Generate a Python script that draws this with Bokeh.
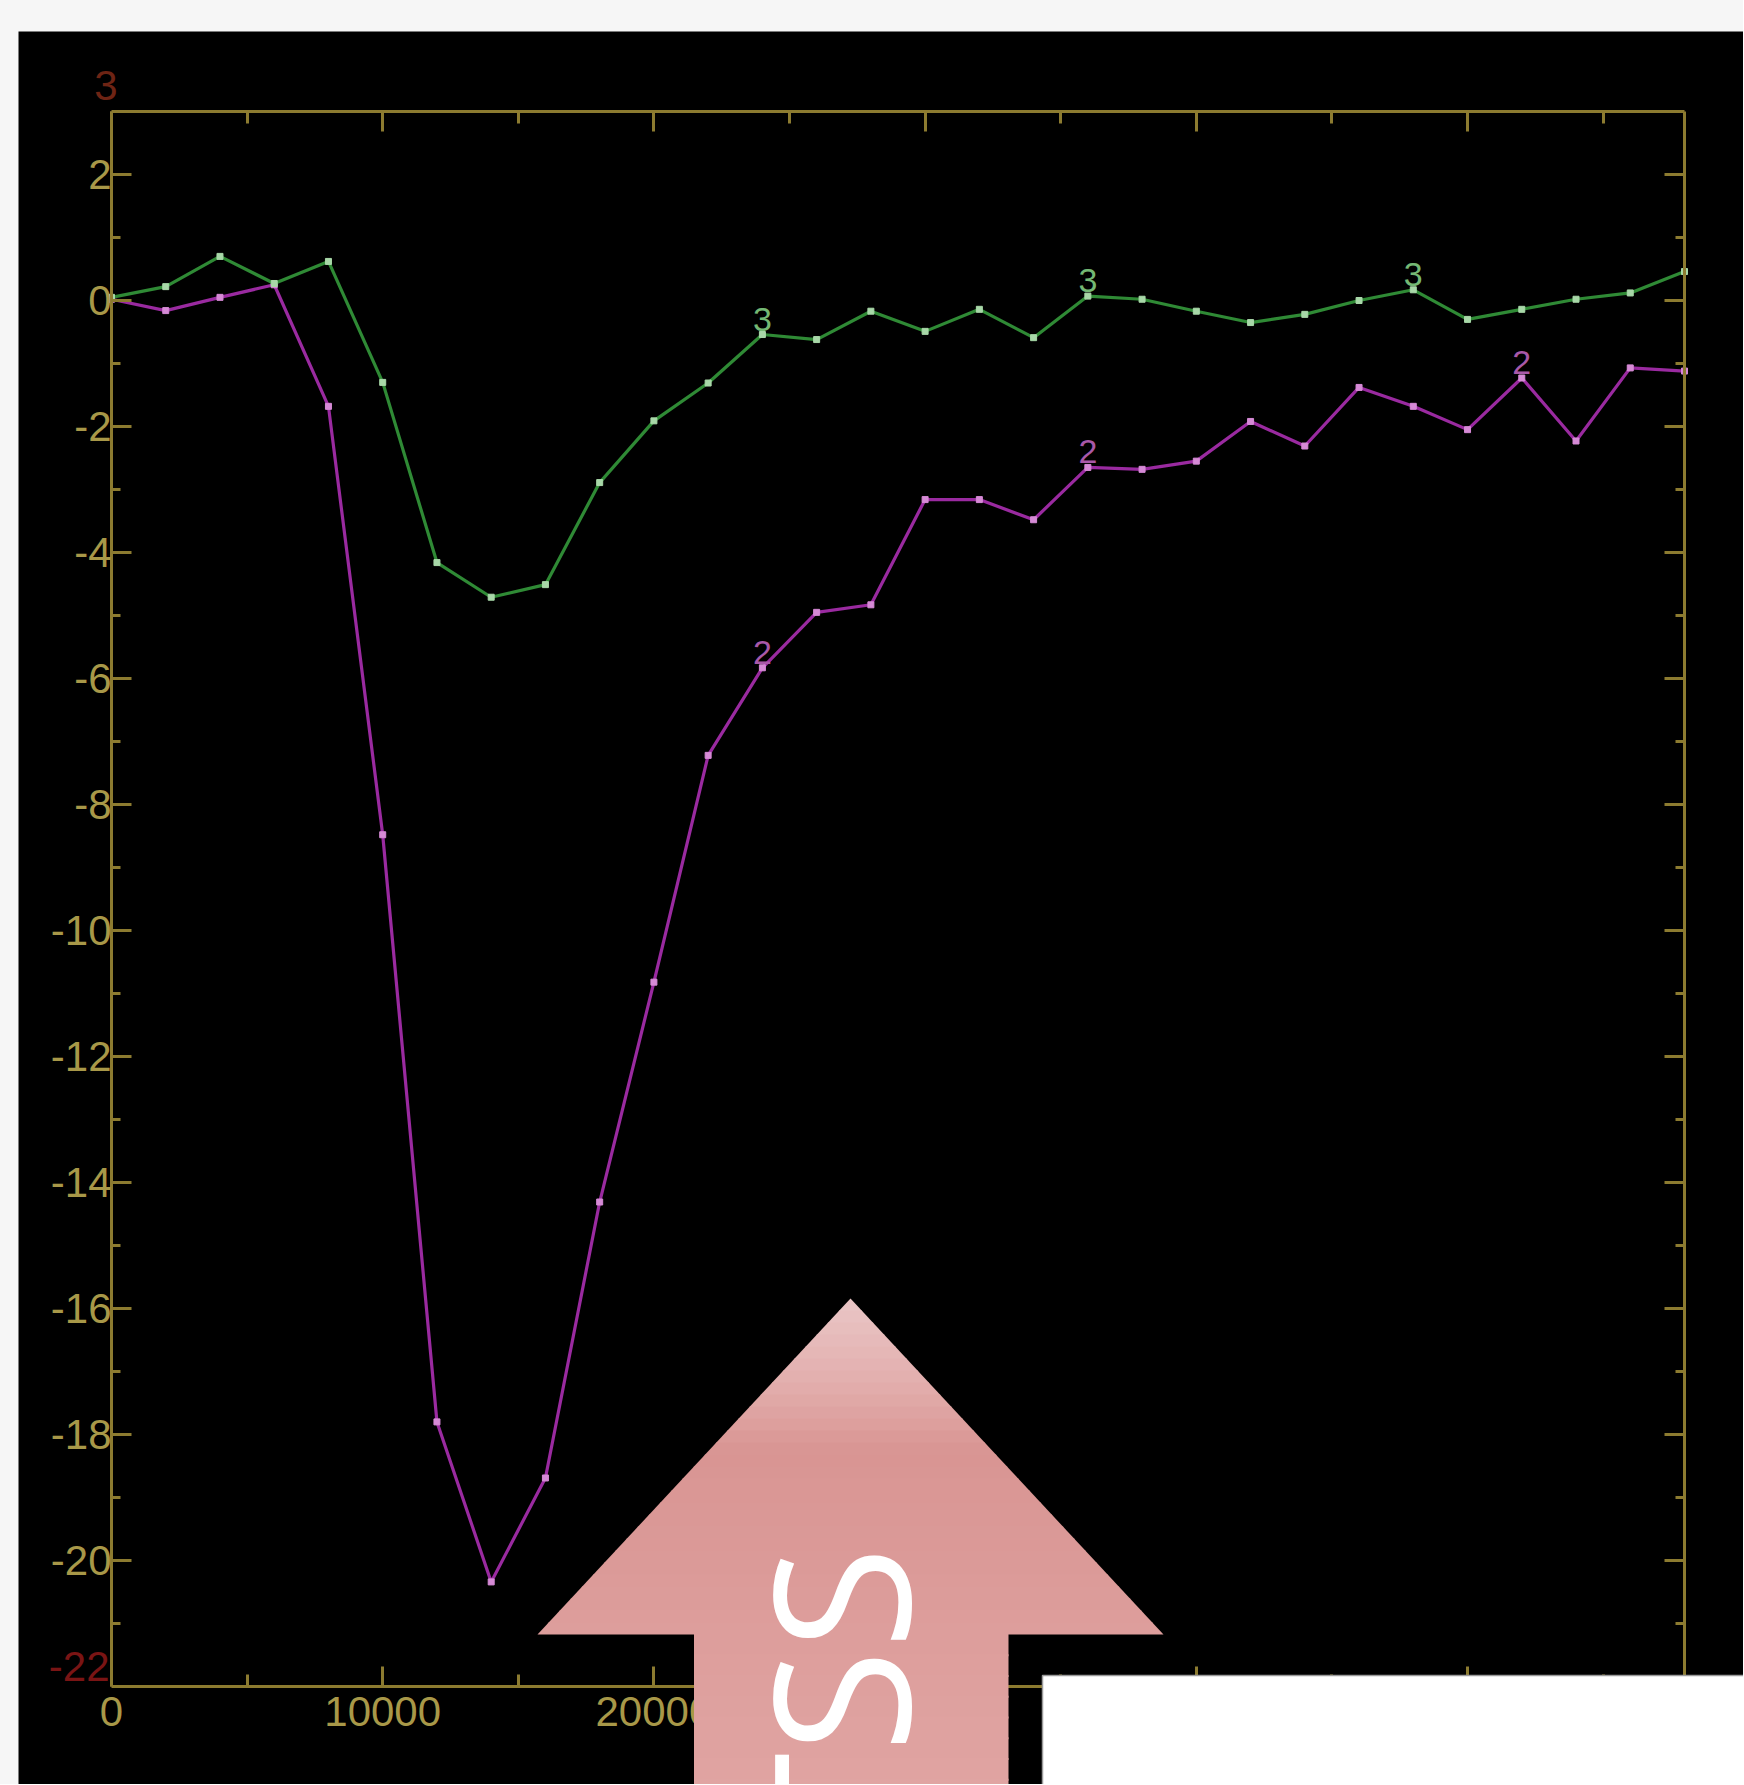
import math
from bokeh.plotting import figure
from bokeh.models import Range1d, LinearAxis, FixedTicker, CustomJSTickFormatter
from bokeh.core.properties import value
from bokeh.embed import file_html
from bokeh.resources import INLINE

# ---------------- data ----------------
positions = [0, 2000, 4000, 6000, 8000, 10000, 12000, 14000, 16000, 18000,
             20000, 22000, 24000, 26000, 28000, 30000, 32000, 34000, 36000, 38000,
             40000, 42000, 44000, 46000, 48000, 50000, 52000, 54000, 56000, 58000]
series_green = [0.05, 0.22, 0.70, 0.27, 0.62, -1.30, -4.16, -4.71, -4.51, -2.89,
                -1.91, -1.31, -0.54, -0.62, -0.17, -0.49, -0.14, -0.59, 0.07, 0.02,
                -0.17, -0.35, -0.22, 0.0, 0.17, -0.30, -0.14, 0.02, 0.12, 0.46]
series_magenta = [0.02, -0.16, 0.05, 0.25, -1.68, -8.48, -17.80, -20.34, -18.69, -14.31,
                  -10.82, -7.22, -5.83, -4.95, -4.83, -3.16, -3.16, -3.48, -2.65, -2.68,
                  -2.55, -1.92, -2.31, -1.38, -1.68, -2.05, -1.23, -2.23, -1.07, -1.12]
x_tick_values = [0, 10000, 20000, 30000, 40000, 50000]
x_tick_labels = ["0", "10000", "20000", "30000", "40000", "50000"]
x_minor_ticks = [5000, 15000, 25000, 35000, 45000, 55000]
y_tick_values = [-20, -18, -16, -14, -12, -10, -8, -6, -4, -2, 0, 2]
y_tick_labels = ["-20", "-18", "-16", "-14", "-12", "-10", "-8", "-6", "-4", "-2", "0", "2"]
y_minor_ticks = [-21, -19, -17, -15, -13, -11, -9, -7, -5, -3, -1, 1]
y_extra_values = [-22, 3]
y_extra_labels = ["-22", "3"]
green_note_index = [12, 18, 24]
green_note_text = ["3", "3", "3"]
magenta_note_index = [12, 18, 26]
magenta_note_text = ["2", "2", "2"]
overlay_text = "TSS"

X_MIN, X_MAX = 0, 58000
Y_MIN, Y_MAX = -22, 3

# ---------------- layout (page pixels) ----------------
W, H = 1743, 1784
FRAME_L, FRAME_T, FRAME_R, FRAME_B = 111, 111, 1684, 1686


def px_to_x(px):
    return X_MIN + (px - FRAME_L) / (FRAME_R - FRAME_L) * (X_MAX - X_MIN)


def py_to_y(py):
    return Y_MAX - (py - FRAME_T) / (FRAME_B - FRAME_T) * (Y_MAX - Y_MIN)


AXIS_COLOR = "#8c7b30"
LABEL_COLOR = "#a89848"
LABEL_FONT = "Liberation Sans"
LABEL_SIZE = "42px"

p = figure(width=W, height=H,
           x_range=Range1d(px_to_x(0), px_to_x(W)), y_range=Range1d(py_to_y(H), py_to_y(0)),
           output_backend="svg", toolbar_location=None,
           x_axis_location=None, y_axis_location=None, min_border=0)
p.background_fill_color = "black"
p.border_fill_color = "black"
p.outline_line_color = None
p.grid.visible = False


def make_axis(ticker, fixed, bounds, major_in, minor_in, labels=None):
    if labels is None:
        ax = LinearAxis(ticker=ticker, formatter=CustomJSTickFormatter(code="return ''"))
    else:
        ax = LinearAxis(ticker=ticker, major_label_overrides=labels)
    ax.fixed_location = fixed
    ax.bounds = bounds
    ax.axis_line_color = AXIS_COLOR
    ax.axis_line_width = 3
    ax.major_tick_line_color = AXIS_COLOR
    ax.minor_tick_line_color = AXIS_COLOR
    ax.major_tick_line_width = 3
    ax.minor_tick_line_width = 3
    ax.major_tick_in = major_in
    ax.major_tick_out = 0
    ax.minor_tick_in = minor_in
    ax.minor_tick_out = 0
    ax.major_label_text_color = LABEL_COLOR
    ax.major_label_text_font = LABEL_FONT
    ax.major_label_text_font_size = LABEL_SIZE
    return ax


xticker = FixedTicker(ticks=x_tick_values, minor_ticks=x_minor_ticks)
yticker = FixedTicker(ticks=y_tick_values, minor_ticks=y_minor_ticks)

bottom = make_axis(xticker, Y_MIN, (X_MIN, X_MAX), 20, 12,
                   {v: l for v, l in zip(x_tick_values, x_tick_labels)})
bottom.major_label_standoff = 10
p.add_layout(bottom, "below")
left = make_axis(yticker, X_MIN, (Y_MIN, Y_MAX), 20, 9,
                 {v: l for v, l in zip(y_tick_values, y_tick_labels)})
left.major_label_standoff = 0
p.add_layout(left, "left")
p.add_layout(make_axis(xticker, Y_MAX, (X_MIN, X_MAX), 20, 12), "above")
p.add_layout(make_axis(yticker, X_MAX, (Y_MIN, Y_MAX), 20, 9), "right")

# dim red end labels of the y axis
p.text([X_MIN, X_MIN], y_extra_values, text=y_extra_labels, text_color=["#7a1414", "#6e2414"],
       text_font=value(LABEL_FONT), text_font_size=LABEL_SIZE,
       text_align="right", text_baseline="middle", x_offset=[-2, 6], y_offset=[-20, -26])

# ---------------- series ----------------
p.line(positions, series_magenta, line_color="#9a2aa0", line_width=3.2)
p.scatter(positions, series_magenta, marker="square", size=6, color="#d68ad6")
p.line(positions, series_green, line_color="#2f8a35", line_width=3.2)
p.scatter(positions, series_green, marker="square", size=6, color="#a8d8a8")

p.text([positions[i] for i in green_note_index], [series_green[i] for i in green_note_index],
       text=green_note_text, text_color="#74b874", text_font=value(LABEL_FONT),
       text_font_size="34px", text_align="center", text_baseline="bottom", y_offset=-4)
p.text([positions[i] for i in magenta_note_index], [series_magenta[i] for i in magenta_note_index],
       text=magenta_note_text, text_color="#a858a8", text_font=value(LABEL_FONT),
       text_font_size="34px", text_align="center", text_baseline="bottom", y_offset=-4)

# ---------------- overlay: page strips, arrow, white box ----------------
PAGE_GRAY = "#f6f6f6"
p.quad(left=[px_to_x(-20), px_to_x(-20)], right=[px_to_x(18), px_to_x(W + 20)],
       top=[py_to_y(-20), py_to_y(-20)], bottom=[py_to_y(H + 20), py_to_y(31)],
       fill_color=PAGE_GRAY, line_color=None, level="overlay")

stops = [(1298, (234, 198, 198)), (1380, (227, 175, 174)), (1450, (217, 149, 147)),
         (1560, (219, 154, 152)), (1634, (221, 158, 156)), (1790, (224, 164, 162))]


def grad(py):
    for (y0, c0), (y1, c1) in zip(stops[:-1], stops[1:]):
        if py <= y1:
            t = max(0.0, (py - y0) / (y1 - y0))
            c = [round(a + (b - a) * t) for a, b in zip(c0, c1)]
            return "#%02x%02x%02x" % tuple(c)
    return "#%02x%02x%02x" % stops[-1][1]


TIP_X, TIP_Y, BASE_Y = 850, 1298, 1634
HALF_BASE = (1163 - 537) / 2
SHAFT_L, SHAFT_R = 693.5, 1008
arrow_xs, arrow_ys, arrow_colors = [], [], []
n_head = 28
for k in range(n_head):
    y0 = TIP_Y + (BASE_Y - TIP_Y) * k / n_head
    y1 = TIP_Y + (BASE_Y - TIP_Y) * (k + 1) / n_head
    y1e = min(y1 + 1, BASE_Y)
    w0 = HALF_BASE * (y0 - TIP_Y) / (BASE_Y - TIP_Y)
    w1 = HALF_BASE * (y1e - TIP_Y) / (BASE_Y - TIP_Y)
    arrow_xs.append([px_to_x(TIP_X - w0), px_to_x(TIP_X + w0), px_to_x(TIP_X + w1), px_to_x(TIP_X - w1)])
    arrow_ys.append([py_to_y(y0), py_to_y(y0), py_to_y(y1e), py_to_y(y1e)])
    arrow_colors.append(grad((y0 + y1) / 2))
n_shaft = 8
for k in range(n_shaft):
    y0 = BASE_Y - 1 + (1800 - BASE_Y) * k / n_shaft
    y1 = BASE_Y + (1800 - BASE_Y) * (k + 1) / n_shaft + 1
    arrow_xs.append([px_to_x(SHAFT_L), px_to_x(SHAFT_R), px_to_x(SHAFT_R), px_to_x(SHAFT_L)])
    arrow_ys.append([py_to_y(y0), py_to_y(y0), py_to_y(y1), py_to_y(y1)])
    arrow_colors.append(grad((y0 + y1) / 2))
p.patches(arrow_xs, arrow_ys, fill_color=arrow_colors, line_color=None, level="overlay")

p.text([px_to_x(836)], [py_to_y(1546)], text=[overlay_text], angle=math.pi / 2,
       text_align="right", text_baseline="middle", text_color="white",
       text_font=value("Open Sans"), text_font_size="188px", level="overlay")

p.quad(left=[px_to_x(1042)], right=[px_to_x(W + 20)], top=[py_to_y(1675)], bottom=[py_to_y(H + 20)],
       fill_color="white", line_color="#9a9a9a", line_width=1.5, level="overlay")

open("out.html", "w").write(file_html(p, INLINE))
